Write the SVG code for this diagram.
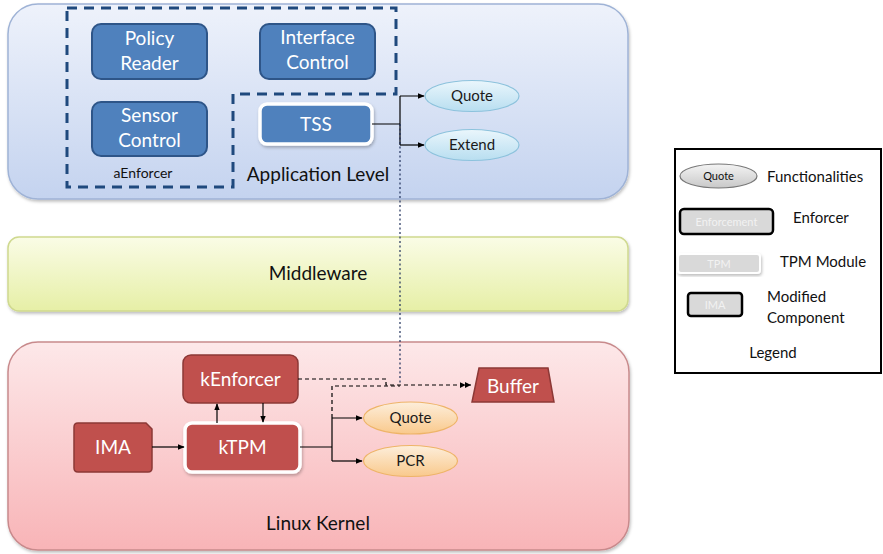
<svg xmlns="http://www.w3.org/2000/svg" width="883" height="554" viewBox="0 0 883 554">
  <defs>
    <linearGradient id="gApp" x1="0" y1="0" x2="0" y2="1">
      <stop offset="0" stop-color="#eef2fb"/>
      <stop offset="1" stop-color="#c4d3ef"/>
    </linearGradient>
    <linearGradient id="gMid" x1="0" y1="0" x2="0" y2="1">
      <stop offset="0" stop-color="#fafce6"/>
      <stop offset="1" stop-color="#e6efa6"/>
    </linearGradient>
    <linearGradient id="gKer" x1="0" y1="0" x2="0" y2="1">
      <stop offset="0" stop-color="#fde8e9"/>
      <stop offset="1" stop-color="#f8b4b7"/>
    </linearGradient>
    <linearGradient id="gBlueOval" x1="0" y1="0" x2="0" y2="1">
      <stop offset="0" stop-color="#eaf6fc"/>
      <stop offset="1" stop-color="#b8def0"/>
    </linearGradient>
    <linearGradient id="gOrangeOval" x1="0" y1="0" x2="0" y2="1">
      <stop offset="0" stop-color="#fdeedb"/>
      <stop offset="1" stop-color="#f9c98c"/>
    </linearGradient>
    <linearGradient id="gGrayOval" x1="0" y1="0" x2="0" y2="1">
      <stop offset="0" stop-color="#f4f4f4"/>
      <stop offset="1" stop-color="#c8c8c8"/>
    </linearGradient>
    <filter id="shadow" x="-5%" y="-10%" width="110%" height="130%">
      <feDropShadow dx="1" dy="2" stdDeviation="1.5" flood-color="#000" flood-opacity="0.25"/>
    </filter>
    <marker id="arrow" viewBox="0 0 10 10" refX="9" refY="5" markerWidth="7" markerHeight="7" orient="auto" markerUnits="userSpaceOnUse">
      <path d="M0,1 L10,5 L0,9 z" fill="#000"/>
    </marker>
    <marker id="arrow2" viewBox="0 0 16 10" refX="15" refY="5" markerWidth="12" markerHeight="8" orient="auto" markerUnits="userSpaceOnUse">
      <path d="M0,1 L8,5 L0,9 z M7,1 L15,5 L7,9 z" fill="#000"/>
    </marker>
  </defs>
  <style>
    text { font-family: "Lato", "Open Sans", "Liberation Sans", sans-serif; text-anchor: middle; }
    .layer-label { font-size: 19px; fill: #111; }
    .blue-box { fill: #4f81bd; stroke: #2e5588; stroke-width: 2; }
    .red-box { fill: #c0504d; stroke: #8c3836; stroke-width: 1.5; }
    .tpm-box { stroke: #ffffff; stroke-width: 3.5; }
    .box-text { font-size: 19px; fill: #ffffff; }
    .oval-text { font-size: 15px; fill: #1a1a1a; }
    .blue-oval { fill: url(#gBlueOval); stroke: #8cc2dc; stroke-width: 1.2; }
    .orange-oval { fill: url(#gOrangeOval); stroke: #eeb468; stroke-width: 1.2; }
    .conn { fill: none; stroke: #000; stroke-width: 1.2; }
    .dash { fill: none; stroke: #000; stroke-width: 1.2; stroke-dasharray: 4 3; }
    .dot { fill: none; stroke: #1f2f5a; stroke-width: 1.2; stroke-dasharray: 2 2.5; }
    .enf-outline { fill: none; stroke: #1f497d; stroke-width: 3; stroke-dasharray: 10 7; }
    .legend-text { font-size: 15px; fill: #111; text-anchor: start; }
  </style>

  <!-- layer containers -->
  <g id="application-level">
    <rect x="8" y="4" width="620" height="195" rx="30" fill="url(#gApp)" stroke="#9fb3d6" stroke-width="1.5" filter="url(#shadow)"/>
    <text class="layer-label" x="318" y="181">Application Level</text>
  </g>
  <g id="middleware">
    <rect x="8" y="237" width="620" height="74" rx="11" fill="url(#gMid)" stroke="#cfd98f" stroke-width="1.5" filter="url(#shadow)"/>
    <text class="layer-label" x="318" y="280">Middleware</text>
  </g>
  <g id="linux-kernel">
    <rect x="8" y="342" width="621" height="208" rx="30" fill="url(#gKer)" stroke="#c88a8c" stroke-width="1.5" filter="url(#shadow)"/>
    <text class="layer-label" x="318" y="530">Linux Kernel</text>
  </g>

  <!-- aEnforcer grouping outline -->
  <g id="aEnforcer">
    <path class="enf-outline" d="M67,8 H396 V94 H233 V187 H67 Z"/>
    <text x="143" y="178" font-size="14" fill="#111">aEnforcer</text>
  </g>

  <g id="policy-reader">
    <rect class="blue-box" x="92" y="24" width="115" height="55" rx="9"/>
    <text class="box-text" x="149.5" y="45">Policy</text>
    <text class="box-text" x="149.5" y="70">Reader</text>
  </g>
  <g id="interface-control">
    <rect class="blue-box" x="260" y="24" width="115" height="55" rx="9"/>
    <text class="box-text" x="317.5" y="44">Interface</text>
    <text class="box-text" x="317.5" y="69">Control</text>
  </g>
  <g id="sensor-control">
    <rect class="blue-box" x="92" y="102" width="115" height="54" rx="9"/>
    <text class="box-text" x="149.5" y="122">Sensor</text>
    <text class="box-text" x="149.5" y="147">Control</text>
  </g>
  <g id="tss">
    <rect class="blue-box tpm-box" x="260" y="104" width="112" height="40" rx="7" filter="url(#shadow)"/>
    <text class="box-text" x="316" y="131">TSS</text>
  </g>
  <g id="app-quote">
    <ellipse class="blue-oval" cx="472" cy="96" rx="47" ry="15.5"/>
    <text class="oval-text" x="472" y="101">Quote</text>
  </g>
  <g id="app-extend">
    <ellipse class="blue-oval" cx="472" cy="145" rx="47" ry="15.5"/>
    <text class="oval-text" x="472" y="150">Extend</text>
  </g>

  <!-- kernel components -->
  <g id="kEnforcer">
    <rect class="red-box" x="183" y="355" width="115" height="48" rx="8"/>
    <text class="box-text" x="240.5" y="386">kEnforcer</text>
  </g>
  <g id="kTPM">
    <rect class="red-box tpm-box" x="185" y="423" width="115" height="49" rx="7" filter="url(#shadow)"/>
    <text class="box-text" x="242.5" y="454">kTPM</text>
  </g>
  <g id="IMA">
    <path class="red-box" d="M78,423 H146 L152,429 V468 Q152,472 148,472 H78 Q74,472 74,468 V427 Q74,423 78,423 Z"/>
    <text class="box-text" x="113" y="454">IMA</text>
  </g>
  <g id="kernel-quote">
    <ellipse class="orange-oval" cx="410.5" cy="418" rx="47" ry="16"/>
    <text class="oval-text" x="410.5" y="423">Quote</text>
  </g>
  <g id="kernel-pcr">
    <ellipse class="orange-oval" cx="410.5" cy="461" rx="47" ry="15.5"/>
    <text class="oval-text" x="410.5" y="466">PCR</text>
  </g>
  <g id="buffer">
    <path class="red-box" d="M479,368 H548 L554,402 H472 Z"/>
    <text class="box-text" x="513" y="393">Buffer</text>
  </g>

  <!-- connectors -->
  <g id="connectors">
    <path class="conn" d="M372,124 H400 M400,96 V145 M400,96 H424" marker-end="url(#arrow)"/>
    <path class="conn" d="M400,145 H424" marker-end="url(#arrow)"/>
    <path class="dot" d="M400,124 V385"/>
    <path class="conn" d="M152,447 H184" marker-end="url(#arrow)"/>
    <path class="conn" d="M217,423 V404" marker-end="url(#arrow)"/>
    <path class="conn" d="M263,403 V422" marker-end="url(#arrow)"/>
    <path class="conn" d="M300,447 H332 M332,418 V461 M332,418 H362" marker-end="url(#arrow)"/>
    <path class="conn" d="M332,461 H362" marker-end="url(#arrow)"/>
    <path class="dash" d="M298,379 H386 V385 H471" marker-end="url(#arrow2)"/>
    <path class="dash" d="M332,418 V386 H400"/>
  </g>

  <!-- legend -->
  <g id="legend">
    <rect x="675" y="149" width="206" height="224" fill="#ffffff" stroke="#000" stroke-width="2"/>
    <ellipse cx="718.5" cy="176" rx="38.5" ry="12" fill="url(#gGrayOval)" stroke="#777" stroke-width="1.2"/>
    <text x="718.5" y="180" font-size="11" fill="#111">Quote</text>
    <text class="legend-text" x="767" y="182">Functionalities</text>

    <rect x="680" y="209" width="93" height="25" rx="4" fill="#d9d9d9" stroke="#000" stroke-width="2.5"/>
    <text x="726.5" y="226" font-size="11" fill="#f2f2f2">Enforcement</text>
    <text class="legend-text" x="793" y="223">Enforcer</text>

    <rect x="678" y="254" width="82" height="19" rx="3" fill="#d9d9d9" stroke="#ffffff" stroke-width="2" filter="url(#shadow)"/>
    <text x="719" y="268" font-size="11" fill="#f2f2f2">TPM</text>
    <text class="legend-text" x="780" y="267">TPM Module</text>

    <rect x="688" y="293" width="54" height="23" rx="3" fill="#d9d9d9" stroke="#000" stroke-width="2.5"/>
    <text x="715" y="309" font-size="11" fill="#f2f2f2">IMA</text>
    <text class="legend-text" x="767" y="302">Modified</text>
    <text class="legend-text" x="767" y="323">Component</text>

    <text x="773" y="358" font-size="15" fill="#111">Legend</text>
  </g>
</svg>
